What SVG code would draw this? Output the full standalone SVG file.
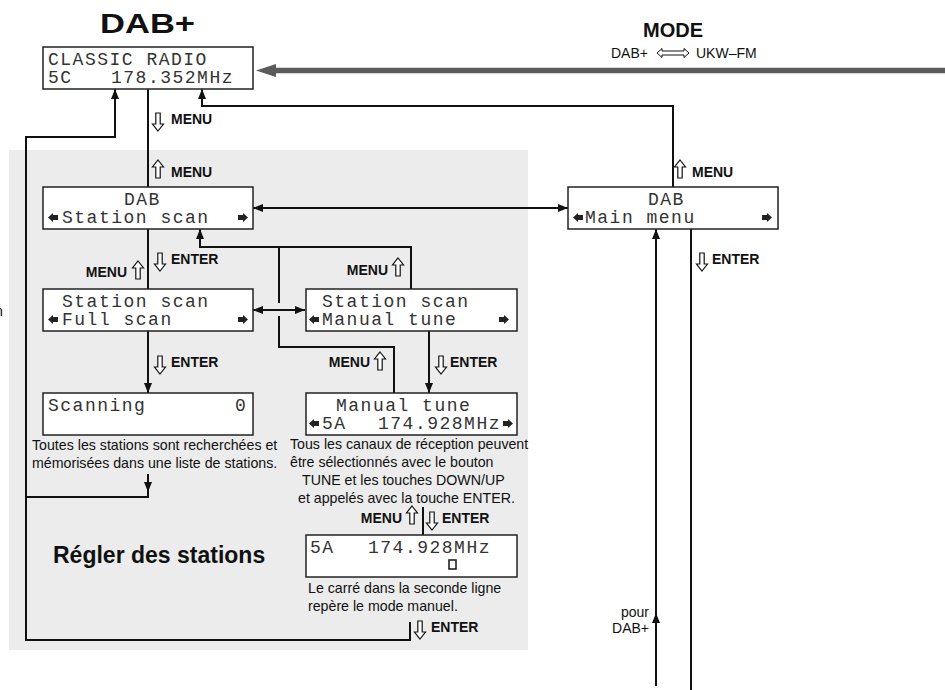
<svg xmlns="http://www.w3.org/2000/svg" width="945" height="690" viewBox="0 0 945 690">
<defs>
<marker id="ah" viewBox="0 0 10 8" refX="10" refY="4" markerWidth="10" markerHeight="8" markerUnits="userSpaceOnUse" orient="auto-start-reverse"><path d="M0,0 L10,4 L0,8 Z" fill="#111"/></marker>
<path id="up" d="M0,0 L5.5,7 L2.2,7 L2.2,18 L-2.2,18 L-2.2,7 L-5.5,7 Z" fill="#fff" stroke="#111" stroke-width="1.2"/>
<path id="dn" d="M0,18 L5.5,11 L2.2,11 L2.2,0 L-2.2,0 L-2.2,11 L-5.5,11 Z" fill="#fff" stroke="#111" stroke-width="1.2"/>
<path id="gl" d="M0,4.5 L5,0 L5,2 L10,2 L10,7 L5,7 L5,9 Z" fill="#222"/>
<path id="gr" d="M10,4.5 L5,0 L5,2 L0,2 L0,7 L5,7 L5,9 Z" fill="#222"/>
</defs>
<style>
.lcd{font-family:"Liberation Mono","DejaVu Sans Mono",monospace;font-size:18px;letter-spacing:1.5px;fill:#333}
.box{fill:#fff;stroke:#222;stroke-width:1.5}
.ln{fill:none;stroke:#111;stroke-width:2}
.lb{font-family:"Liberation Sans",Arial,sans-serif;font-weight:bold;font-size:14px;fill:#111}
.tx{font-family:"Liberation Sans",Arial,sans-serif;font-size:14.2px;fill:#111}
.end{text-anchor:end}
</style>
<rect x="0" y="0" width="945" height="690" fill="#fff"/>
<rect id="panel" x="9" y="150" width="519" height="500" fill="#ececec"/>
<text class="tx" x="-5" y="316">n</text>

<text x="100" y="33" font-family="Liberation Sans,Arial,sans-serif" font-weight="bold" font-size="28" textLength="95" lengthAdjust="spacingAndGlyphs" fill="#111">DAB+</text>
<text x="673" y="37" text-anchor="middle" font-family="Liberation Sans,Arial,sans-serif" font-weight="bold" font-size="20" fill="#111">MODE</text>
<text class="tx" x="611" y="58" style="font-size:14px">DAB+</text>
<path d="M657,53 L662,48.5 L662,51 L684,51 L684,48.5 L689,53 L684,57.5 L684,55 L662,55 L662,57.5 Z" fill="#fff" stroke="#111" stroke-width="1"/>
<text class="tx" x="696" y="58" style="font-size:14px">UKW–FM</text>
<text class="lb" x="53" y="563" style="font-size:23px">Régler des stations</text>

<g id="connectors">
<path d="M945,70.5 H272" fill="none" stroke="#5b5b5b" stroke-width="5.5"/>
<polygon points="256,70.5 276,64 276,77" fill="#5b5b5b"/>
<path class="ln" d="M115,89 V137 H26 V640 H410 V622" marker-start="url(#ah)"/>
<path class="ln" d="M148,474 V497 H26"/>
<path class="ln" d="M148,474 V492" marker-end="url(#ah)"/>
<path class="ln" d="M148,89 V187"/>
<path class="ln" d="M148,229 V289"/>
<path class="ln" d="M148,331 V393" marker-end="url(#ah)"/>
<path class="ln" d="M253,208 H568" marker-start="url(#ah)" marker-end="url(#ah)"/>
<path class="ln" d="M253,310 H305" marker-start="url(#ah)" marker-end="url(#ah)"/>
<path class="ln" d="M200,229 V247 H411 V289" marker-start="url(#ah)"/>
<path class="ln" d="M279,247 V303"/>
<path class="ln" d="M279,316 V347 H394 V393"/>
<path class="ln" d="M429,331 V393" marker-end="url(#ah)"/>
<path class="ln" d="M423,507 V535"/>
<path class="ln" d="M202,89 V106 H673 V187" marker-start="url(#ah)"/>
<path class="ln" d="M656,686 V613" marker-end="url(#ah)"/>
<path class="ln" d="M656,613 V229" marker-end="url(#ah)"/>
<path class="ln" d="M691,229 V690"/>
</g>

<g id="labels">
<use href="#dn" x="158" y="113"/><text class="lb" x="171" y="124">MENU</text>
<use href="#up" x="158" y="160"/><text class="lb" x="171" y="177">MENU</text>
<use href="#dn" x="160" y="253"/><text class="lb" x="171" y="264">ENTER</text>
<text class="lb end" x="127" y="277">MENU</text><use href="#up" x="138" y="261"/>
<use href="#dn" x="160" y="356"/><text class="lb" x="171" y="367">ENTER</text>
<text class="lb end" x="388" y="275">MENU</text><use href="#up" x="398" y="258"/>
<text class="lb end" x="370" y="367">MENU</text><use href="#up" x="380" y="352"/>
<use href="#dn" x="441" y="356"/><text class="lb" x="450" y="367">ENTER</text>
<text class="lb end" x="402" y="523">MENU</text><use href="#up" x="412" y="506"/>
<use href="#dn" x="432" y="512"/><text class="lb" x="442" y="523">ENTER</text>
<use href="#dn" x="420" y="621"/><text class="lb" x="431" y="632">ENTER</text>
<use href="#up" x="680" y="160"/><text class="lb" x="692" y="177">MENU</text>
<use href="#dn" x="702" y="253"/><text class="lb" x="712" y="264">ENTER</text>
</g>

<g id="notes">
<text class="tx" x="32" y="450">Toutes les stations sont recherchées et</text>
<text class="tx" x="32" y="468">mémorisées dans une liste de stations.</text>
<text class="tx" x="290" y="449">Tous les canaux de réception peuvent</text>
<text class="tx" x="290" y="467">être sélectionnés avec le bouton</text>
<text class="tx" x="302" y="485">TUNE et les touches DOWN/UP</text>
<text class="tx" x="298" y="503">et appelés avec la touche ENTER.</text>
<text class="tx" x="308" y="593">Le carré dans la seconde ligne</text>
<text class="tx" x="308" y="611">repère le mode manuel.</text>
<text class="tx end" x="649" y="617" style="font-size:14px">pour</text>
<text class="tx end" x="649" y="633" style="font-size:14px">DAB+</text>
</g>

<g id="n-radio">
<rect class="box" x="43" y="47" width="210" height="42"/>
<text class="lcd" x="48" y="65">CLASSIC RADIO</text>
<text class="lcd" x="48" y="83">5C</text><text class="lcd" x="111" y="83">178.352MHz</text>
</g>
<g id="n-dab-scan">
<rect class="box" x="43" y="187" width="210" height="42"/>
<text class="lcd" x="124" y="205">DAB</text>
<use href="#gl" x="48" y="213"/><text class="lcd" x="62" y="223">Station scan</text><use href="#gr" x="238" y="213"/>
</g>
<g id="n-full">
<rect class="box" x="43" y="289" width="210" height="42"/>
<text class="lcd" x="62" y="307">Station scan</text>
<use href="#gl" x="48" y="315"/><text class="lcd" x="62" y="325">Full scan</text><use href="#gr" x="238" y="315"/>
</g>
<g id="n-scanning">
<rect class="box" x="43" y="393" width="210" height="42"/>
<text class="lcd" x="48" y="411">Scanning</text><text class="lcd" x="235" y="411">0</text>
</g>
<g id="n-manual">
<rect class="box" x="306" y="289" width="211" height="42"/>
<text class="lcd" x="322" y="307">Station scan</text>
<use href="#gl" x="309" y="315"/><text class="lcd" x="322" y="325">Manual tune</text><use href="#gr" x="499" y="315"/>
</g>
<g id="n-tune">
<rect class="box" x="306" y="393" width="211" height="42"/>
<text class="lcd" x="336" y="411">Manual tune</text>
<use href="#gl" x="309" y="419"/><text class="lcd" x="322" y="429">5A</text><text class="lcd" x="378" y="429">174.928MHz</text><use href="#gr" x="503" y="419"/>
</g>
<g id="n-freq">
<rect class="box" x="306" y="535" width="211" height="42"/>
<text class="lcd" x="310" y="553">5A</text><text class="lcd" x="368" y="553">174.928MHz</text>
<rect x="449" y="560" width="7" height="9" fill="none" stroke="#222" stroke-width="1.6"/>
</g>
<g id="n-main">
<rect class="box" x="568" y="187" width="210" height="42"/>
<text class="lcd" x="648" y="205">DAB</text>
<use href="#gl" x="573" y="213"/><text class="lcd" x="585" y="223">Main menu</text><use href="#gr" x="762" y="213"/>
</g>
</svg>
